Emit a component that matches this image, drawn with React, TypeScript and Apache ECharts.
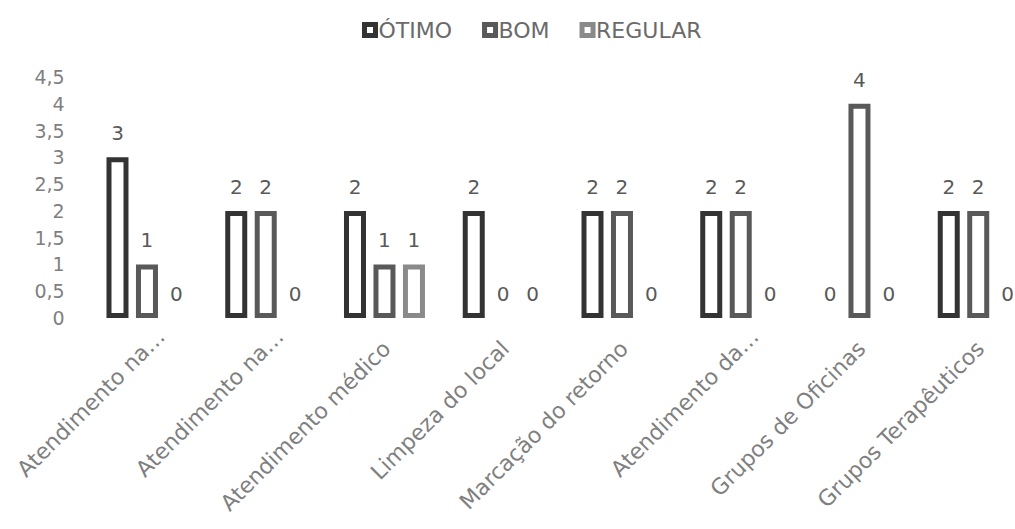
import React, { useEffect, useRef } from "react";
import * as echarts from "echarts";

const categories = [
  "Atendimento na…",
  "Atendimento na…",
  "Atendimento médico",
  "Limpeza do local",
  "Marcação do retorno",
  "Atendimento da…",
  "Grupos de Oficinas",
  "Grupos Terapêuticos",
];
const seriesNames = ["ÓTIMO", "BOM", "REGULAR"];
const otimo = [3, 2, 2, 2, 2, 2, 0, 2];
const bom = [1, 2, 1, 0, 2, 2, 4, 2];
const regular = [0, 0, 1, 0, 0, 0, 0, 0];
const yTicks = { min: 0, max: 4.5, interval: 0.5 };

const colors = ["#333333", "#595959", "#8a8a8a"];
const FONT = "DejaVu Sans";

export default function App() {
  const ref = useRef<HTMLDivElement>(null);
  useEffect(() => {
    if (!ref.current) return;
    const chart = echarts.init(ref.current, undefined, { renderer: "svg" });
    const values = [otimo, bom, regular];
    const catItems = categories.map((c) =>
      c.endsWith("…")
        ? { value: c, textStyle: { padding: [0, -20, 0, 0] } }
        : { value: c, textStyle: { padding: [0, -3, 0, 0] } }
    );
    chart.setOption({
      animation: false,
      backgroundColor: "#ffffff",
      textStyle: { fontFamily: FONT },
      legend: {
        top: 14,
        left: 357,
        icon: "rect",
        itemWidth: 11,
        itemHeight: 11,
        itemGap: 30,
        itemStyle: { borderWidth: 5 },
        textStyle: { color: "#6a6a6a", fontSize: 22, fontFamily: FONT, padding: [0, 0, 0, -2] },
        data: seriesNames,
      },
      grid: {
        left: 87.6,
        top: 77,
        width: 950,
        height: 241,
        outerBoundsMode: "none",
        containLabel: false,
      },
      xAxis: {
        type: "category",
        data: catItems,
        axisLine: { show: false },
        axisTick: { show: false },
        splitLine: { show: false },
        axisLabel: {
          rotate: 45,
          interval: 0,
          margin: 29,
          color: "#7f7f7f",
          fontSize: 22,
          fontFamily: FONT,
        },
      },
      yAxis: {
        type: "value",
        min: yTicks.min,
        max: yTicks.max,
        interval: yTicks.interval,
        axisLine: { show: false },
        axisTick: { show: false },
        splitLine: { show: false },
        axisLabel: {
          margin: 23,
          color: "#7f7f7f",
          fontSize: 19,
          fontFamily: FONT,
          formatter: (v: number) => String(v).replace(".", ","),
        },
      },
      series: seriesNames.map((name, i) => ({
        name,
        type: "bar",
        barWidth: 22,
        barGap: "34%",
        itemStyle: { color: "#ffffff", borderColor: colors[i], borderWidth: 5 },
        label: {
          show: true,
          position: "top",
          distance: 14,
          color: "#595959",
          fontSize: 20,
          fontFamily: FONT,
        },
        data: values[i].map((v) =>
          v === 0 ? { value: v, itemStyle: { borderWidth: 0 } } : v
        ),
      })),
    });
    return () => chart.dispose();
  }, []);
  return (
    <div
      ref={ref}
      style={{ position: "fixed", left: 0, top: 0, width: 1015, height: 529 }}
    />
  );
}
